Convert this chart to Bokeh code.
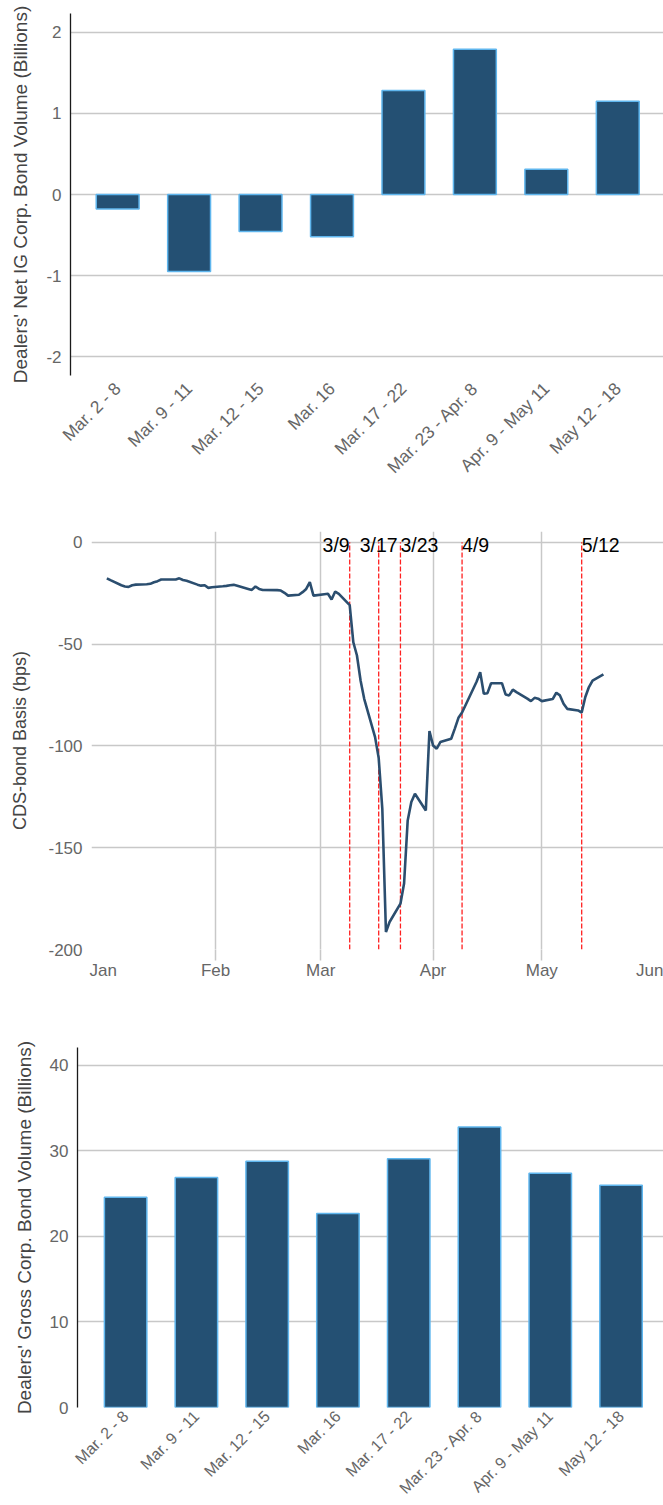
import math
from datetime import datetime, timedelta

from bokeh.plotting import figure
from bokeh.models import Range1d, FixedTicker, DatetimeAxis, DatetimeTickFormatter, ColumnDataSource
from bokeh.embed import file_html
from bokeh.resources import INLINE
from bokeh.core.properties import value

# ---------------- data ----------------
weeks = ["Mar. 2 - 8", "Mar. 9 - 11", "Mar. 12 - 15", "Mar. 16", "Mar. 17 - 22",
         "Mar. 23 - Apr. 8", "Apr. 9 - May 11", "May 12 - 18"]
net_volume = [-0.18, -0.95, -0.455, -0.52, 1.28, 1.79, 0.31, 1.15]
gross_volume = [24.6, 26.9, 28.8, 22.7, 29.1, 32.8, 27.4, 26.0]
net_ticks = [-2, -1, 0, 1, 2]
gross_ticks = [0, 10, 20, 30, 40]
basis_ticks = [0, -50, -100, -150, -200]

basis_dates = [
    "2020-01-02", "2020-01-03", "2020-01-06", "2020-01-07", "2020-01-08", "2020-01-09", "2020-01-10",
    "2020-01-13", "2020-01-14", "2020-01-15", "2020-01-16", "2020-01-17", "2020-01-21", "2020-01-22",
    "2020-01-23", "2020-01-24", "2020-01-27", "2020-01-28", "2020-01-29", "2020-01-30", "2020-01-31",
    "2020-02-03", "2020-02-04", "2020-02-05", "2020-02-06", "2020-02-07", "2020-02-10", "2020-02-11",
    "2020-02-12", "2020-02-13", "2020-02-14", "2020-02-18", "2020-02-19", "2020-02-20", "2020-02-21",
    "2020-02-24", "2020-02-25", "2020-02-26", "2020-02-27", "2020-02-28", "2020-03-02", "2020-03-03",
    "2020-03-04", "2020-03-05", "2020-03-06", "2020-03-09", "2020-03-10", "2020-03-11", "2020-03-12",
    "2020-03-13", "2020-03-16", "2020-03-17", "2020-03-18", "2020-03-19", "2020-03-20", "2020-03-23",
    "2020-03-24", "2020-03-25", "2020-03-26", "2020-03-27", "2020-03-30", "2020-03-31", "2020-04-01",
    "2020-04-02", "2020-04-03", "2020-04-06", "2020-04-07", "2020-04-08", "2020-04-09", "2020-04-13",
    "2020-04-14", "2020-04-15", "2020-04-16", "2020-04-17", "2020-04-20", "2020-04-21", "2020-04-22",
    "2020-04-23", "2020-04-24", "2020-04-27", "2020-04-28", "2020-04-29", "2020-04-30", "2020-05-01",
    "2020-05-04", "2020-05-05", "2020-05-06", "2020-05-07", "2020-05-08", "2020-05-11", "2020-05-12",
    "2020-05-13", "2020-05-14", "2020-05-15", "2020-05-18",
]
basis_bps = [
    -17.7, -18.6, -21.1, -21.7, -21.9, -21.1, -20.8,
    -20.6, -20.4, -19.6, -19.1, -18.3, -18.3, -17.7,
    -18.5, -18.9, -20.8, -21.3, -21.1, -22.4, -22.1,
    -21.6, -21.4, -21.1, -20.9, -21.4, -22.9, -23.4,
    -21.7, -22.9, -23.4, -23.5, -23.7, -24.8, -26.2,
    -25.8, -24.5, -22.9, -19.6, -26.2, -25.5, -25.3,
    -28.1, -24.2, -25.3, -30.9, -49.1, -55.6, -67.9,
    -76.9, -95.7, -106.0, -131.0, -191.4, -186.5, -177.5,
    -167.6, -136.6, -127.6, -123.5, -131.7, -92.7, -99.8,
    -101.4, -98.1, -96.5, -91.5, -86.2, -83.6, -68.5,
    -63.8, -74.4, -74.1, -69.2, -69.2, -74.7, -75.2,
    -72.4, -73.6, -76.8, -78.0, -76.4, -76.8, -78.0,
    -77.0, -73.9, -75.2, -79.3, -81.8, -82.6, -83.6,
    -76.0, -71.1, -67.9, -64.9,
]
event_dates = ["2020-03-09", "2020-03-17", "2020-03-23", "2020-04-09", "2020-05-12"]
event_labels = ["3/9", "3/17", "3/23", "4/9", "5/12"]
month_starts = ["2020-01-01", "2020-02-01", "2020-03-01", "2020-04-01", "2020-05-01", "2020-06-01"]

assert len(basis_dates) == len(basis_bps)

# ---------------- style ----------------
FONT = "Liberation Sans"
BAR_FILL = "#245073"
BAR_EDGE = "#5fb6ee"
LINE_CLR = "#2b4e6f"
GRID_CLR = "#c8c8c8"
TICK_CLR = "#666666"
TITLE_CLR = "#444444"
EVENT_ALIGN = ["right", "center", "left", "left", "left"]
W = 663


def to_dt(s):
    return datetime.strptime(s, "%Y-%m-%d")


def to_ms(d):
    return (d - datetime(1970, 1, 1)).total_seconds() * 1000.0


def style_yaxis(p, ticks, label, label_size, label_standoff, axis_line):
    ax = p.yaxis[0]
    ax.ticker = FixedTicker(ticks=ticks)
    ax.major_label_overrides = {t: str(t) for t in ticks}
    ax.axis_label = label
    ax.axis_label_text_font = FONT
    ax.axis_label_text_font_style = "normal"
    ax.axis_label_text_font_size = label_size
    ax.axis_label_text_color = TITLE_CLR
    ax.axis_label_standoff = label_standoff
    ax.major_label_text_font = FONT
    ax.major_label_text_font_size = "17px"
    ax.major_label_text_color = TICK_CLR
    ax.major_label_standoff = 3
    ax.major_tick_line_color = None
    ax.minor_tick_line_color = None
    if axis_line:
        ax.axis_line_color = "#1a1a1a"
        ax.axis_line_width = 1.3
    else:
        ax.axis_line_color = None
    p.ygrid.ticker = FixedTicker(ticks=ticks)
    p.ygrid.grid_line_color = GRID_CLR
    p.ygrid.grid_line_width = 1.5


def bar_fig(vals, ticks, ylim, xlim, ylabel, height, bl, bt, bb, lstand, xstand, xsize):
    p = figure(width=W, height=height, output_backend="svg", toolbar_location=None,
               x_range=Range1d(*xlim), y_range=Range1d(*ylim),
               min_border_left=bl, min_border_right=0, min_border_top=bt, min_border_bottom=bb)
    p.outline_line_color = None
    idx = list(range(len(weeks)))
    src = ColumnDataSource(dict(x=idx, top=vals, label=weeks))
    p.vbar(x="x", top="top", bottom=0, width=0.6, source=src,
           fill_color=BAR_FILL, line_color=BAR_EDGE, line_width=1.5)
    xa = p.xaxis[0]
    xa.ticker = FixedTicker(ticks=idx)
    xa.major_label_overrides = {i: w for i, w in enumerate(weeks)}
    xa.major_label_orientation = math.pi / 4
    xa.major_label_text_font = FONT
    xa.major_label_text_font_size = xsize
    xa.major_label_text_line_height = 1.0
    xa.major_label_text_color = TICK_CLR
    xa.major_label_standoff = xstand
    xa.axis_line_color = None
    xa.major_tick_line_color = None
    xa.minor_tick_line_color = None
    p.xgrid.visible = False
    style_yaxis(p, ticks, ylabel, "19px", lstand, True)
    return p


# ---------------- chart 1 ----------------
p1 = bar_fig(net_volume, net_ticks, (-2.23, 2.23), (-0.66, 7.64),
             "Dealers' Net IG Corp. Bond Volume (Billions)", 510, 70, 13, 135, 12, 4, "17.5px")

# ---------------- chart 2 ----------------
x_start = datetime(2020, 1, 1) - timedelta(days=3.23)
x_end = x_start + timedelta(days=157.8)
p2 = figure(width=W, height=520, output_backend="svg", toolbar_location=None,
            x_axis_type="datetime", x_range=Range1d(x_start, x_end), y_range=Range1d(-200, 5.3),
            min_border_left=91, min_border_right=0, min_border_top=21, min_border_bottom=81)
p2.outline_line_color = None

grid_months = [to_ms(to_dt(m)) for m in month_starts[1:5]]
all_months = [to_ms(to_dt(m)) for m in month_starts]

# tick-only axis (extends the month gridlines below the frame)
ta = p2.xaxis[0]
ta.ticker = FixedTicker(ticks=grid_months)
ta.axis_line_color = None
ta.major_tick_in = 0
ta.major_tick_out = 11
ta.major_tick_line_color = GRID_CLR
ta.major_tick_line_width = 1.5
ta.minor_tick_line_color = None
ta.major_label_text_alpha = 0
ta.major_label_text_font_size = "1px"
ta.major_label_standoff = 0

la = DatetimeAxis()
la.ticker = FixedTicker(ticks=all_months)
la.formatter = DatetimeTickFormatter(days="%b", months="%b", years="%b")
la.axis_line_color = None
la.major_tick_line_color = None
la.minor_tick_line_color = None
la.major_label_standoff = -6
la.major_label_text_font = FONT
la.major_label_text_font_size = "17px"
la.major_label_text_color = TICK_CLR
p2.add_layout(la, "below")

p2.xgrid.ticker = FixedTicker(ticks=grid_months)
p2.xgrid.grid_line_color = GRID_CLR
p2.xgrid.grid_line_width = 1.5
style_yaxis(p2, basis_ticks, "CDS-bond Basis (bps)", "18px", 15, False)

ev_src = ColumnDataSource(dict(x=[to_dt(d) for d in event_dates], label=event_labels, align=EVENT_ALIGN))
p2.segment(x0="x", y0=-200, x1="x", y1=0, source=ev_src,
           line_color="#ff2020", line_width=1.3, line_dash="5 2")
p2.line([to_dt(d) for d in basis_dates], basis_bps, line_color=LINE_CLR, line_width=2.6)
p2.text(x="x", y=-1.1, text="label", source=ev_src, text_align="align",
        text_baseline="alphabetic", text_font=value(FONT), text_font_size="19.5px",
        text_color="black")

# ---------------- chart 3 ----------------
p3 = bar_fig(gross_volume, gross_ticks, (0, 42.1), (-0.68, 7.6),
             "Dealers' Gross Corp. Bond Volume (Billions)", 475, 77, 17, 97, 12, 0, "16px")

open("out.html", "w").write(file_html([p1, p2, p3], INLINE))
